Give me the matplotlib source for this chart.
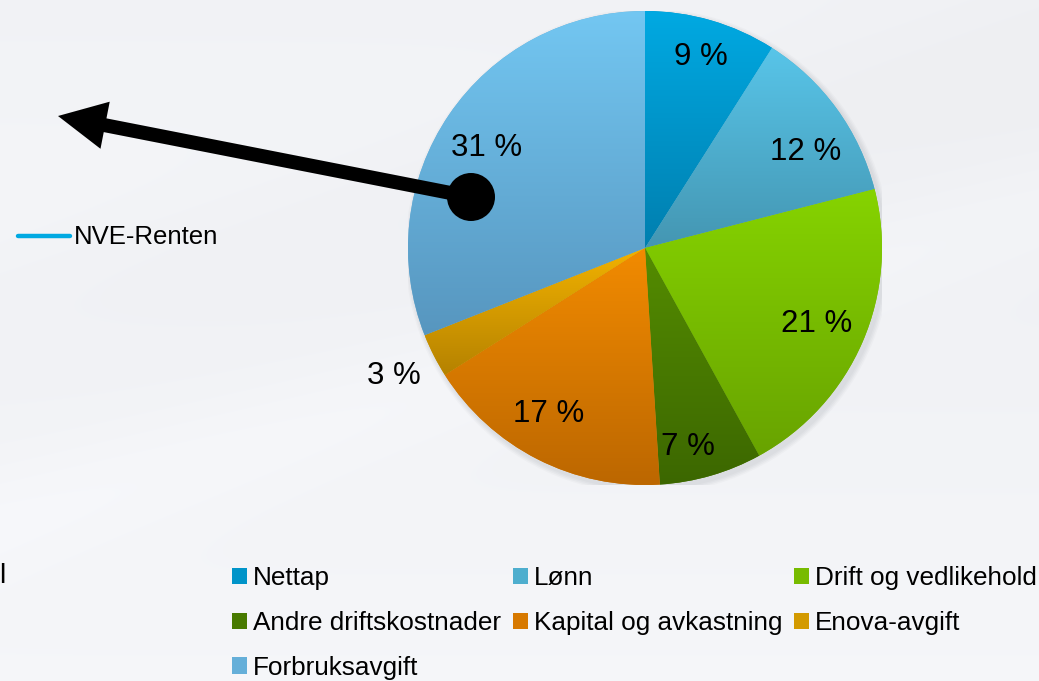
import numpy as np
import matplotlib
matplotlib.use("Agg")
import matplotlib.pyplot as plt
from matplotlib.patches import Circle, FancyArrow, Rectangle
from matplotlib.colors import to_rgb

# ---------------- data ----------------
categories = ["Nettap", "Lønn", "Drift og vedlikehold", "Andre driftskostnader",
              "Kapital og avkastning", "Enova-avgift", "Forbruksavgift"]
values = [9, 12, 21, 7, 17, 3, 31]
line_series_label = "NVE-Renten"

# ---------------- style ----------------
top_colors = ["#00A9E2", "#58C5E9", "#86D300", "#548C00", "#F28B00", "#F2B200", "#73C7F2"]
bot_colors = ["#007FAF", "#4496B2", "#68A300", "#3C6700", "#BC6700", "#B58200", "#5796BF"]
label_dist = [0.84, 0.79, 0.79, 0.86, 0.81, 1.19, 0.79]
label_dang = [0.0, -5.0, -0.5, -4.0, -3.0, 0.0, 2.0]
FONT = "Liberation Sans"
plt.rcParams["font.family"] = [FONT, "DejaVu Sans"]

W, H = 1039, 681
fig = plt.figure(figsize=(W / 100, H / 100), dpi=100)

# ---------------- background ----------------
bg = fig.add_axes([0, 0, 1, 1], zorder=0)
yy, xx = np.mgrid[0:H, 0:W]
base = np.full((H, W), 0.935)
base += 0.033 * (yy / H)
d1 = yy - (260 - 0.25 * xx)
base += 0.018 * (1 / (1 + np.exp(d1 / 25.0)))
d2 = yy - (520 - 0.30 * xx)
base += 0.012 * np.exp(-(d2 / 60.0) ** 2)
base = np.clip(base, 0, 1)
img = np.dstack([base - 0.006, base - 0.002, base + 0.01])
img = np.clip(img, 0, 1)
bg.imshow(img, extent=(0, W, H, 0), aspect="auto", interpolation="bilinear")
bg.set_xlim(0, W)
bg.set_ylim(H, 0)
bg.axis("off")

# ---------------- pie ----------------
cx, cy, R = 645, 248, 237
pax = fig.add_axes([(cx - R) / W, (H - cy - R) / H, 2 * R / W, 2 * R / H], zorder=1)
pax.patch.set_alpha(0)

for k, a in enumerate([0.05, 0.05, 0.05, 0.04]):
    pax.add_patch(Circle((0.012, -0.014), 1.0 + 0.006 * (k + 1), color="#7a7f88",
                         alpha=a, lw=0, zorder=0))

mid_colors = [tuple((np.array(to_rgb(t)) + np.array(to_rgb(b))) / 2)
              for t, b in zip(top_colors, bot_colors)]
wedges, _ = pax.pie(values, startangle=90, counterclock=False, radius=1,
                    colors=mid_colors, wedgeprops=dict(linewidth=0))

for w, tc, bc in zip(wedges, top_colors, bot_colors):
    ext = w.get_path().get_extents()
    t = np.linspace(0, 1, 256)[:, None]
    grad = (1 - t) * np.array(to_rgb(tc)) + t * np.array(to_rgb(bc))
    grad = grad[:, None, :]
    im = pax.imshow(grad, extent=(ext.x0, ext.x1, ext.y0, ext.y1), origin="upper",
                    aspect="auto", interpolation="bilinear", zorder=2)
    im.set_clip_path(w)

for w, v, dist, da in zip(wedges, values, label_dist, label_dang):
    th = np.deg2rad((w.theta1 + w.theta2) / 2 + da)
    pax.text(dist * np.cos(th), dist * np.sin(th), f"{v} %", ha="center", va="center",
             fontsize=22.5, color="black", zorder=5)

pax.set_xlim(-1, 1)
pax.set_ylim(-1, 1)
pax.set_aspect("auto")
pax.axis("off")

# legend (row-major order as in reference)
order = [0, 3, 6, 1, 4, 2, 5]
handles = [Rectangle((0, 0), 1, 1, facecolor=mid_colors[i], lw=0) for i in order]
labels = [categories[i] for i in order]
leg = fig.legend(handles, labels, ncol=3, loc="upper left",
                 bbox_to_anchor=(232 / W, 1 - 566 / H), bbox_transform=fig.transFigure,
                 frameon=False, fontsize=18.8, handlelength=0.58, handleheight=0.58,
                 handletextpad=0.22, columnspacing=0.45, labelspacing=0.8,
                 borderpad=0, borderaxespad=0)

# ---------------- overlay (arrow, dot, NVE legend) ----------------
ov = fig.add_axes([0, 0, 1, 1], zorder=3)
ov.patch.set_alpha(0)
ov.set_xlim(0, W)
ov.set_ylim(H, 0)
ov.axis("off")

tail = np.array([471, 197])
tip = np.array([58, 116])
dv = tip - tail
ov.add_patch(FancyArrow(tail[0], tail[1], dv[0], dv[1], width=14, head_width=48,
                        head_length=48, length_includes_head=True, color="black", lw=0))
ov.add_patch(Circle((471, 197), 24, color="black", lw=0))

ov.plot([18, 70], [236, 236], color="#00A9E2", lw=3.2, solid_capstyle="round")
ov.text(74, 237, line_series_label, fontsize=18.5, va="center", ha="left")

# cropped text fragment at the left edge
ov.text(5, 576, "l", fontsize=20, va="center", ha="right")

fig.savefig("out.png", dpi=100)
